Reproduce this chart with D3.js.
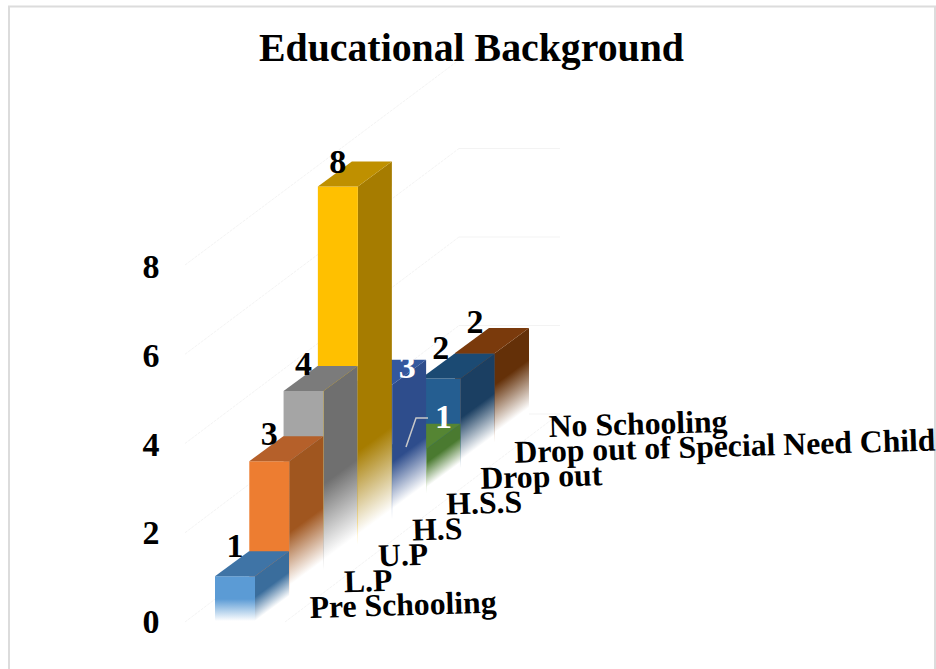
<!DOCTYPE html>
<html><head><meta charset="utf-8">
<style>html,body{margin:0;padding:0;background:#fff}svg{display:block}text{font-family:"Liberation Serif",serif;font-weight:bold}</style>
<script src="https://cdn.jsdelivr.net/npm/d3@7/dist/d3.min.js"></script>
</head><body><svg id="c" width="936" height="669"></svg>
<script>
const categories = ["Pre Schooling","L.P","U.P","H.S","H.S.S","Drop out","Drop out of Special Need Child","No Schooling"];
const values = [1,3,4,8,3,1,2,2];
const yTicks = [0,2,4,6,8];
const title = "Educational Background";
const frontColors = ["#5b9bd5","#ed7d31","#a5a5a5","#ffc000","#34589e","#5f9438","#255e91","#9e480e"];
const topColors = ["#3f74a6","#b5602a","#7b7b7b","#bf9000","#34589e","#558533","#1b4a73","#7a3a0c"];
const sideColors = ["#3a6d9c","#a0561f","#6f6f6f","#a67c00","#2e4d8c","#4a7a30","#1b3f62","#643008"];

const svg=d3.select("#c");
const defs=svg.append("defs");
svg.append("path").attr("fill","none").attr("stroke","#dcdcdc").attr("stroke-width",2)
  .attr("d",d3.line()([[9,672],[9,6.5],[935,6.5],[935,672]]));

const barW=40, depthX=34, depthY=25;
const xScale=d3.scaleLinear().domain([0,7]).range([215,455]);
const baseScale=d3.scaleLinear().domain([0,7]).range([621,442.5]);
const h=d3.scaleLinear().domain([0,8]).range([0,358]);
const yAxis=d3.scaleLinear().domain([0,8]).range([622,267]);
const wallFront=d3.scaleLinear().domain([0,8]).range([622,265]);
const wallBack=d3.scaleLinear().domain([0,8]).range([414,60]);
const labelX=d3.scaleLinear().domain([0,7]).range([310,549]);
const labelY=d3.scaleLinear().domain([0,7]).range([618,437]);
const line=d3.line();

// faint gridlines
const grid=svg.append("g").attr("fill","none").attr("stroke","#f0f0f0").attr("stroke-width",0.8);
yTicks.forEach(v=>{
  grid.append("path").attr("stroke-dasharray","3 1").attr("d",line([[185,wallFront(v)],[459,wallBack(v)]]));
  grid.append("path").attr("d",line([[459,wallBack(v)],[560,wallBack(v)]]));
});
grid.append("path").attr("stroke-dasharray","3 1").attr("d",line([[285,622],[559,414]]));

svg.append("text").attr("x",471.5).attr("y",61).attr("text-anchor","middle").attr("font-size",39.8).attr("fill","#000").text(title);

svg.append("g").selectAll("text").data(yTicks).join("text")
  .attr("x",151).attr("y",d=>yAxis(d)+11).attr("text-anchor","middle").attr("font-size",34).attr("fill","#000").text(d=>d);

function grad(id,color,x1,y1,x2,y2){
  const g=defs.append("linearGradient").attr("id",id).attr("gradientUnits","userSpaceOnUse")
    .attr("x1",x1).attr("y1",y1).attr("x2",x2).attr("y2",y2);
  g.append("stop").attr("offset",0).attr("stop-color",color);
  g.append("stop").attr("offset",1).attr("stop-color","#fff");
  return `url(#${id})`;
}
// soft edge along the floor: gradient runs across the depth direction
const norm=Math.hypot(depthX,depthY), nx=depthY/norm, ny=depthX/norm;
const softEdgeStart=[24,63,86,93,57,31,50,58];
const softEdgeEnd=[0,10,10,10,10,6,8,10];
const bars=svg.append("g");
d3.range(categories.length).reverse().forEach(i=>{
  const x=xScale(i), b=baseScale(i), t=b-h(values[i]);
  const g=bars.append("g");
  const ex=x+barW, ey=b;
  const p=v=>[ex-nx*v*ny, ey-ny*v*ny];
  const [sx,sy]=p(softEdgeStart[i]), [fx,fy]=p(softEdgeEnd[i]);
  const sideFill=grad("s"+i,sideColors[i],sx,sy,fx,fy);
  const frontFill=grad("f"+i,frontColors[i],x,b-22,x,b);
  g.append("path").attr("fill",sideFill).attr("d",line([[x+barW,t],[x+barW+depthX,t-depthY],[x+barW+depthX,b-depthY],[x+barW,b]])+"Z");
  g.append("path").attr("fill",frontFill).attr("d",line([[x,t],[x+barW,t],[x+barW,b],[x,b]])+"Z");
  g.append("path").attr("fill",topColors[i]).attr("d",line([[x,t],[x+barW,t],[x+barW+depthX,t-depthY],[x+depthX,t-depthY]])+"Z");
});

// data labels
const labelDx=[0,0,0,0,35,37,0,0];
const labelDy=[-19,-16,-16,-14,-7,-21,-20,-20];
const whiteLabels=[4,5];
svg.append("g").selectAll("text").data(values).join("text")
  .attr("x",(d,i)=>xScale(i)+20+labelDx[i])
  .attr("y",(d,i)=>baseScale(i)-h(d)+labelDy[i])
  .attr("text-anchor","middle").attr("font-size",34)
  .attr("fill",(d,i)=>whiteLabels.includes(i)?"#fff":"#000").text(d=>d);

svg.append("path").attr("fill","none").attr("stroke","#c8c8c8").attr("stroke-width",1.5)
  .attr("d",line([[406,447],[416,418],[428,418]]));

// category labels
svg.append("g").selectAll("text").data(categories).join("text")
  .attr("transform",(d,i)=>`translate(${labelX(i)},${labelY(i)}) rotate(-1.7)`)
  .attr("font-size",31.7).attr("fill","#000").text(d=>d);
</script></body></html>
